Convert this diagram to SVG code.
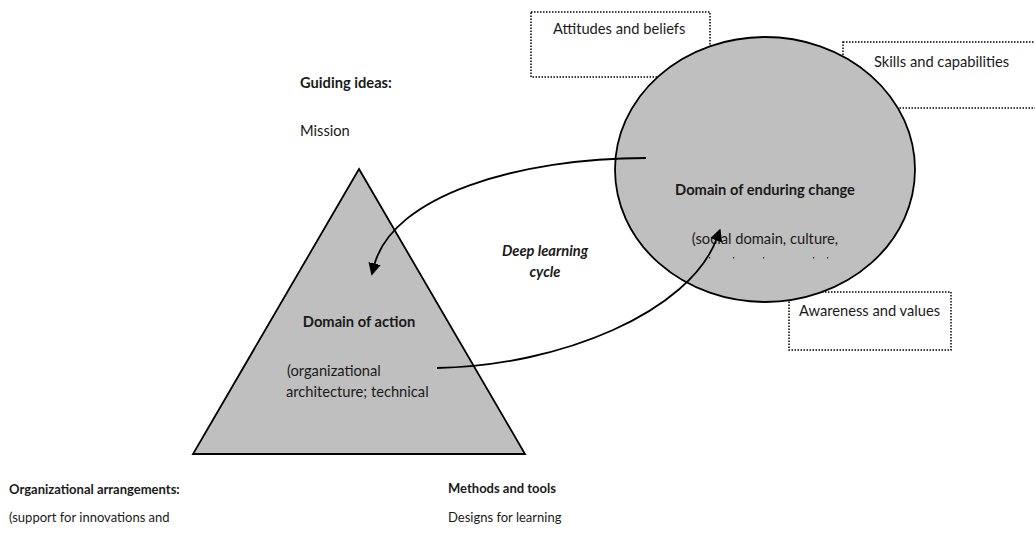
<svg xmlns="http://www.w3.org/2000/svg" width="1035" height="542" viewBox="0 0 1035 542">
  <style>
    text { font-family: Lato, "Liberation Sans", sans-serif; font-size: 14.7px; fill: #1a1a1a; }
    .b { font-weight: bold; }
    .bi { font-weight: bold; font-style: italic; }
    .mid { text-anchor: middle; }
    .sm { font-size: 13px; }
    .note { fill: #ffffff; stroke: #000000; stroke-width: 1.5; stroke-dasharray: 1.5 1.5; }
    .shape { fill: #bfbfbf; stroke: #000000; stroke-width: 1.8; }
    .flow { fill: none; stroke: #000000; stroke-width: 1.8; }
  </style>
  <defs>
    <marker id="head" viewBox="0 0 10 10" refX="2" refY="5" markerWidth="7" markerHeight="7" markerUnits="strokeWidth" orient="auto">
      <path d="M0,0 L10,5 L0,10 z" fill="#000000"/>
    </marker>
  </defs>

  <!-- dotted callouts behind the ellipse -->
  <g id="attitudes">
    <rect class="note" x="531" y="12" width="179" height="65"/>
    <text x="553" y="34">Attitudes and beliefs</text>
  </g>
  <g id="skills">
    <rect class="note" x="843" y="42" width="200" height="66"/>
    <text x="874" y="67">Skills and capabilities</text>
  </g>
  <g id="awareness">
    <rect class="note" x="789" y="292" width="162" height="58"/>
    <text x="799" y="316">Awareness and values</text>
  </g>

  <!-- domain of enduring change -->
  <g id="enduring-change">
    <ellipse class="shape" cx="765" cy="169.5" rx="150" ry="132.5"/>
    <text class="b mid" x="765" y="195">Domain of enduring change</text>
    <text class="mid" x="765" y="244">(social domain, culture,</text>
    <g fill="#333333">
      <rect x="709" y="257" width="1.2" height="1.5"/>
      <rect x="733" y="257" width="1.2" height="1.5"/>
      <rect x="763" y="257" width="1.2" height="1.5"/>
      <rect x="813" y="257" width="1.2" height="1.5"/>
      <rect x="827" y="257" width="1.2" height="1.5"/>
    </g>
  </g>

  <!-- domain of action -->
  <g id="action">
    <polygon class="shape" points="359,169 525,454 193,454"/>
    <text class="b mid" x="359" y="327">Domain of action</text>
    <text x="287" y="376">(organizational</text>
    <text x="286" y="397">architecture; technical</text>
  </g>

  <!-- free labels -->
  <g id="guiding-ideas">
    <text class="b" x="300" y="88">Guiding ideas:</text>
    <text x="300" y="136">Mission</text>
  </g>
  <g id="org-arrangements">
    <text class="b sm" x="9" y="494">Organizational arrangements:</text>
    <text class="sm" x="9" y="522">(support for innovations and</text>
  </g>
  <g id="methods">
    <text class="b sm" x="448" y="493">Methods and tools</text>
    <text class="sm" x="448" y="522">Designs for learning</text>
  </g>
  <g id="cycle-label">
    <text class="bi mid" x="545" y="256">Deep learning</text>
    <text class="bi mid" x="545" y="277">cycle</text>
  </g>

  <!-- deep learning cycle connectors -->
  <g id="connectors">
    <path class="flow" d="M646,158 C520,158 392,195 374,266" marker-end="url(#head)"/>
    <path class="flow" d="M437,368 C560,366 690,312 717,238" marker-end="url(#head)"/>
  </g>
</svg>
